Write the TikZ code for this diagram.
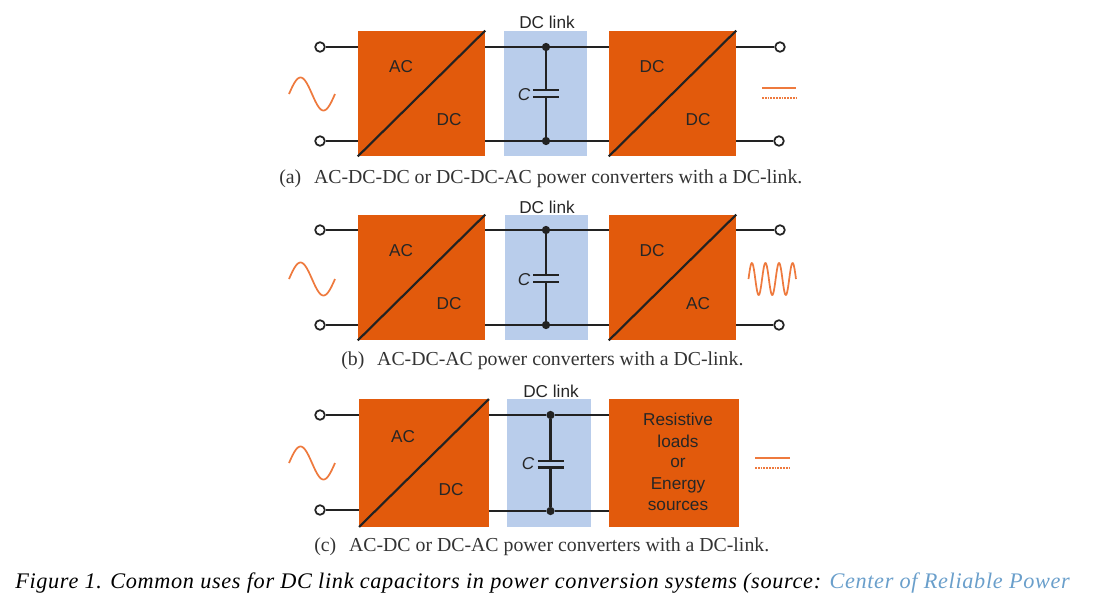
\documentclass[tikz,border=0pt]{standalone}
\usepackage{fontspec}
\setmainfont{Liberation Serif}
\setsansfont{Liberation Sans}
\newfontfamily\figfont[LetterSpace=3.0]{Liberation Serif}
\usetikzlibrary{positioning}
\definecolor{myorange}{HTML}{E25A0C}
\definecolor{mywave}{HTML}{EE7A3E}
\definecolor{myblue}{HTML}{B9CDEB}
\definecolor{mylink}{HTML}{6A9FCB}
\definecolor{mywire}{HTML}{222222}
\tikzset{
	convnode/.style={
			shape=rectangle,
			fill=myorange,
			minimum width=95.25pt,
			minimum height=94pt,
			inner sep=0pt
		},
	linknode/.style={
			shape=rectangle,
			fill=myblue,
			minimum width=62.5pt,
			minimum height=94pt,
			inner sep=0pt
		},
	termnode/.style={
			shape=circle,
			draw=mywire,
			line width=1.3pt,
			fill=white,
			minimum size=7.2pt,
			inner sep=0pt
		},
	dotnode/.style={
			shape=circle,
			fill=mywire,
			minimum size=6.2pt,
			inner sep=0pt
		},
	labelnode/.style={font=\sffamily\fontsize{12.9}{14}\selectfont, text=black!85, inner sep=0pt},
	capitalc/.style={labelnode, font=\sffamily\itshape\fontsize{12.9}{14}\selectfont},
	capnode/.style={font=\fontsize{14.85}{16}\selectfont, text=black!80, inner sep=0pt, anchor=west},
	wire/.style={draw=mywire, line width=1.6pt},
	plate/.style={draw=mywire, line width=1.6pt},
	wave/.style={draw=mywave, line width=1.3pt, line join=round},
	flatline/.style={draw=mywave, line width=1.4pt},
	dotline/.style={flatline, dash pattern=on 1.4pt off 0.7pt}
}
\begin{document}
\begin{tikzpicture}[x=0.75pt, y=-0.75pt]
	\useasboundingbox (0,0) rectangle (1097,593);

	% panel a
	\node[linknode] (la) at (545.5,93.5) {};
	\node[convnode] (a1) at (421.5,93.5) {};
	\node[convnode] (a2) at (672.5,93.5) {};
	\node[termnode] (ta1) at (320,47) {};
	\node[termnode] (ta2) at (320,141) {};
	\node[termnode] (ta3) at (780,47) {};
	\node[termnode] (ta4) at (779,141) {};
	\node[dotnode] (da1) at (546,47) {};
	\node[dotnode] (da2) at (546,141) {};
	\coordinate (pa1) at (546,90);
	\coordinate (pa2) at (546,97);
	\draw[wire] (ta1) -- (ta1 -| a1.west);
	\draw[wire] (ta2) -- (ta2 -| a1.west);
	\draw[wire] (da1 -| a1.east) -- (da1) -- (da1 -| a2.west);
	\draw[wire] (da2 -| a1.east) -- (da2) -- (da2 -| a2.west);
	\draw[wire] (ta3 -| a2.east) -- (ta3);
	\draw[wire] (ta4 -| a2.east) -- (ta4);
	\draw[wire] (a1.south west) -- (a1.north east);
	\draw[wire] (a2.south west) -- (a2.north east);
	\draw[wire] (da1) -- (pa1);
	\draw[wire] (pa2) -- (da2);
	\draw[plate] ([xshift=-9.75pt]pa1) -- ([xshift=9.75pt]pa1);
	\draw[plate] ([xshift=-9.75pt]pa2) -- ([xshift=9.75pt]pa2);
	\node[labelnode] (ca) at (547,22) {DC link};
	\node[capitalc] (ka) at (524,94.5) {C};
	\node[labelnode] at (401,67) {AC};
	\node[labelnode] at (449,120) {DC};
	\node[labelnode] at (652,67) {DC};
	\node[labelnode] at (698,120) {DC};
	\draw[wave] plot[domain=0:360, samples=60] ({289+\x/360*46},{94-16.5*sin(\x)});
	\draw[flatline] (762,88) -- (796,88);
	\draw[dotline] (762,98) -- (796,98);
	\node[capnode] (na) at (279,179) {(a)\hspace{0.65em}AC-DC-DC or DC-DC-AC power converters with a DC-link.};

	% panel b
	\node[linknode] (lb) at (546.5,277.5) {};
	\node[convnode] (b1) at (421.5,277.5) {};
	\node[convnode] (b2) at (672.5,277.5) {};
	\node[termnode] (tb1) at (320,230) {};
	\node[termnode] (tb2) at (320,325) {};
	\node[termnode] (tb3) at (780,230) {};
	\node[termnode] (tb4) at (779,325) {};
	\node[dotnode] (db1) at (546,230) {};
	\node[dotnode] (db2) at (546,325) {};
	\coordinate (pb1) at (546,275);
	\coordinate (pb2) at (546,282);
	\draw[wire] (tb1) -- (tb1 -| b1.west);
	\draw[wire] (tb2) -- (tb2 -| b1.west);
	\draw[wire] (db1 -| b1.east) -- (db1) -- (db1 -| b2.west);
	\draw[wire] (db2 -| b1.east) -- (db2) -- (db2 -| b2.west);
	\draw[wire] (tb3 -| b2.east) -- (tb3);
	\draw[wire] (tb4 -| b2.east) -- (tb4);
	\draw[wire] (b1.south west) -- (b1.north east);
	\draw[wire] (b2.south west) -- (b2.north east);
	\draw[wire] (db1) -- (pb1);
	\draw[wire] (pb2) -- (db2);
	\draw[plate] ([xshift=-9.75pt]pb1) -- ([xshift=9.75pt]pb1);
	\draw[plate] ([xshift=-9.75pt]pb2) -- ([xshift=9.75pt]pb2);
	\node[labelnode] (cb) at (547,207) {DC link};
	\node[capitalc] (kb) at (524,279.5) {C};
	\node[labelnode] at (401,251) {AC};
	\node[labelnode] at (449,304) {DC};
	\node[labelnode] at (652,251) {DC};
	\node[labelnode] at (698,304) {AC};
	\draw[wave] plot[domain=0:360, samples=60] ({289+\x/360*46},{279-16.5*sin(\x)});
	\draw[wave] plot[domain=0:1260, samples=140] ({748.5+\x/1260*47.5},{279-16*sin(\x)});
	\node[capnode] (nb) at (341,361) {(b)\hspace{0.65em}AC-DC-AC power converters with a DC-link.};

	% panel c
	\node[linknode, minimum width=63pt, minimum height=95.5pt] (lc) at (549,463) {};
	\node[convnode, minimum width=97pt, minimum height=95.5pt] (c1) at (424,463) {};
	\node[convnode, minimum width=97.5pt, minimum height=95.5pt] (c2) at (674,463) {};
	\node[termnode] (tc1) at (320,415) {};
	\node[termnode] (tc2) at (320,510) {};
	\node[dotnode] (dc1) at (550.5,415) {};
	\node[dotnode] (dc2) at (550.5,511) {};
	\coordinate (pc1) at (550.5,461);
	\coordinate (pc2) at (550.5,467.5);
	\draw[wire] (tc1) -- (tc1 -| c1.west);
	\draw[wire] (tc2) -- (tc2 -| c1.west);
	\draw[wire] (dc1 -| c1.east) -- (dc1) -- (dc1 -| c2.west);
	\draw[wire] (dc2 -| c1.east) -- (dc2) -- (dc2 -| c2.west);
	\draw[wire] (c1.south west) -- (c1.north east);
	\draw[wire] (dc1) -- (pc1);
	\draw[wire] (pc2) -- (dc2);
	\draw[plate] ([xshift=-9.75pt]pc1) -- ([xshift=9.75pt]pc1);
	\draw[plate] ([xshift=-9.75pt]pc2) -- ([xshift=9.75pt]pc2);
	\node[labelnode] (cc) at (551,391) {DC link};
	\node[capitalc] (kc) at (528,464) {C};
	\node[labelnode] at (403,437) {AC};
	\node[labelnode] at (451,490) {DC};
	\node[labelnode] at (678,419) {Resistive};
	\node[labelnode] at (678,441) {loads};
	\node[labelnode] at (678,463) {or};
	\node[labelnode] at (678,485) {Energy};
	\node[labelnode] at (678,506) {sources};
	\draw[wave] plot[domain=0:360, samples=60] ({289+\x/360*46},{463-16.5*sin(\x)});
	\draw[flatline] (755,458) -- (790,458);
	\draw[dotline] (755,468) -- (790,468);
	\node[capnode] (nc) at (314,547) {(c)\hspace{0.65em}AC-DC or DC-AC power converters with a DC-link.};

	% figure caption
	\node[capnode, font=\figfont\itshape\fontsize{16.7}{18}\selectfont, text=black] (fig) at (15,583) {Figure 1. Common uses for DC link capacitors in power conversion systems (source: \textcolor{mylink}{Center of Reliable Power}};
\end{tikzpicture}
\end{document}
